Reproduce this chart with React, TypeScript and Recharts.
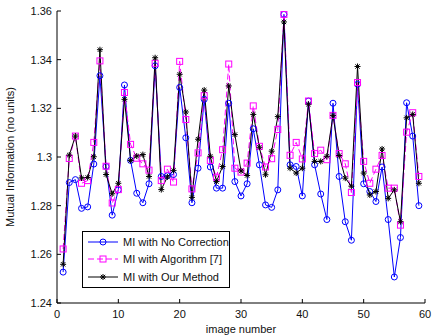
import {
  LineChart,
  Line,
  XAxis,
  YAxis,
  CartesianGrid,
  Legend,
} from 'recharts';

// values
const imageNumber = [
  1, 2, 3, 4, 5, 6, 7, 8, 9, 10, 11, 12, 13, 14, 15, 16, 17, 18, 19, 20,
  21, 22, 23, 24, 25, 26, 27, 28, 29, 30, 31, 32, 33, 34, 35, 36, 37, 38, 39, 40,
  41, 42, 43, 44, 45, 46, 47, 48, 49, 50, 51, 52, 53, 54, 55, 56, 57, 58, 59,
];

const noCorrection = [
  1.2527, 1.2895, 1.2907, 1.2789, 1.2795, 1.2971, 1.3334, 1.2961, 1.2761, 1.2865,
  1.3296, 1.2986, 1.2851, 1.2812, 1.289, 1.3375, 1.292, 1.2923, 1.2928, 1.3286,
  1.3079, 1.2812, 1.2954, 1.3237, 1.2959, 1.2872, 1.2872, 1.3221, 1.2899, 1.284,
  1.289, 1.3116, 1.2968, 1.2803, 1.2793, 1.2865, 1.3586, 1.2968, 1.2961, 1.284,
  1.323, 1.2968, 1.2848, 1.2743, 1.3221, 1.292, 1.2734, 1.2658, 1.3299, 1.289,
  1.2858, 1.2817, 1.2959, 1.2743, 1.2507, 1.2669, 1.3223, 1.3086, 1.28,
];

const algorithm7 = [
  1.2622, 1.2994, 1.3086, 1.2892, 1.2903, 1.306, 1.3395, 1.2962, 1.2811, 1.2866,
  1.3265, 1.3052, 1.2995, 1.2972, 1.2946, 1.3385, 1.2903, 1.295, 1.2897, 1.3393,
  1.3154, 1.2869, 1.3017, 1.3252, 1.2986, 1.2917, 1.303, 1.3382, 1.2954, 1.2938,
  1.2975, 1.321, 1.3044, 1.2959, 1.2993, 1.3113, 1.3586, 1.3007, 1.306, 1.2992,
  1.323, 1.3014, 1.3028, 1.2989, 1.3171, 1.3014, 1.2972, 1.2854, 1.3306, 1.2982,
  1.2892, 1.295, 1.3006, 1.2872, 1.2872, 1.272, 1.3102, 1.3182, 1.292,
];

const ourMethod = [
  1.2559, 1.3008, 1.3086, 1.2914, 1.2916, 1.3001, 1.3441, 1.2928, 1.2849, 1.2892,
  1.3237, 1.2986, 1.3004, 1.301, 1.292, 1.3408, 1.2866, 1.2918, 1.2945, 1.334,
  1.3185, 1.2834, 1.3073, 1.3275, 1.3003, 1.2899, 1.2961, 1.3292, 1.3092, 1.2943,
  1.2924, 1.3175, 1.304, 1.2927, 1.3024, 1.3166, 1.3555, 1.2954, 1.2934, 1.2954,
  1.3217, 1.2982, 1.2982, 1.3003, 1.3171, 1.3006, 1.2913, 1.288, 1.3372, 1.2934,
  1.2844, 1.2858, 1.3033, 1.283, 1.2865, 1.2734, 1.3161, 1.3175, 1.2892,
];

const xTicks = [0, 10, 20, 30, 40, 50, 60];
const yTicks = [1.24, 1.26, 1.28, 1.3, 1.32, 1.34, 1.36];

const seriesNames = ['MI with No Correction', 'MI with Algorithm [7]', 'MI with Our Method'];

const data = imageNumber.map((n, i) => ({
  image: n,
  noCorrection: noCorrection[i],
  algorithm7: algorithm7[i],
  ourMethod: ourMethod[i],
}));

const WIDTH = 435;
const HEIGHT = 335;
const MARGIN = { top: 11, right: 10, bottom: 0, left: 0 };
const YAXIS_W = 57;
const XAXIS_H = 32;
const PLOT_LEFT = MARGIN.left + YAXIS_W;
const PLOT_RIGHT = WIDTH - MARGIN.right;
const PLOT_TOP = MARGIN.top;
const PLOT_BOTTOM = HEIGHT - MARGIN.bottom - XAXIS_H;

const BLUE = '#0000ff';
const MAGENTA = '#ff00ff';
const BLACK = '#000000';
const FONT = '"Liberation Sans", Arial, Helvetica, sans-serif';

const fmt = (v: number) => String(+v.toFixed(2));

// MATLAB style: ticks point into the plot box
const LeftTick = ({ y, payload }: any) => (
  <g>
    <line x1={PLOT_LEFT} x2={PLOT_LEFT + 4} y1={y} y2={y} stroke={BLACK} />
    <text x={PLOT_LEFT - 5} y={y} dy={4} textAnchor="end" fontSize={11} fontFamily={FONT} fill="#111">
      {fmt(payload.value)}
    </text>
  </g>
);

const RightTick = ({ y }: any) => (
  <line x1={PLOT_RIGHT} x2={PLOT_RIGHT - 4} y1={y} y2={y} stroke={BLACK} />
);

const BottomTick = ({ x, payload }: any) => (
  <g>
    <line x1={x} x2={x} y1={PLOT_BOTTOM} y2={PLOT_BOTTOM - 4} stroke={BLACK} />
    <text x={x} y={PLOT_BOTTOM + 15} textAnchor="middle" fontSize={11} fontFamily={FONT} fill="#111">
      {payload.value}
    </text>
  </g>
);

const TopTick = ({ x }: any) => (
  <line x1={x} x2={x} y1={PLOT_TOP} y2={PLOT_TOP + 4} stroke={BLACK} />
);

const Circle = ({ cx, cy, size = 3 }: any) => (
  <circle cx={cx} cy={cy} r={size} fill="none" stroke={BLUE} strokeWidth={1} />
);

const Square = ({ cx, cy, size = 3 }: any) => (
  <rect x={cx - size} y={cy - size} width={size * 2} height={size * 2} fill="none" stroke={MAGENTA} strokeWidth={1} />
);

const Star = ({ cx, cy, size = 3 }: any) => {
  const d = size * 0.72;
  return (
    <g stroke={BLACK} strokeWidth={1}>
      <line x1={cx - size} x2={cx + size} y1={cy} y2={cy} />
      <line x1={cx} x2={cx} y1={cy - size} y2={cy + size} />
      <line x1={cx - d} x2={cx + d} y1={cy - d} y2={cy + d} />
      <line x1={cx - d} x2={cx + d} y1={cy + d} y2={cy - d} />
    </g>
  );
};

const dotFor = (Marker: any) => (props: any) => {
  if (props.cx == null || props.cy == null) return <g key={props.index} />;
  return <Marker key={props.index} cx={props.cx} cy={props.cy} />;
};

const legendRows = [
  { name: seriesNames[0], color: BLUE, dash: undefined, Marker: Circle },
  { name: seriesNames[1], color: MAGENTA, dash: '6 3', Marker: Square },
  { name: seriesNames[2], color: BLACK, dash: undefined, Marker: Star },
];

const MatlabLegend = () => (
  <div
    style={{
      boxSizing: 'border-box',
      width: 148,
      height: 57,
      border: '1px solid #000',
      background: '#fff',
      paddingTop: 1,
      fontFamily: FONT,
      fontSize: 11,
      color: '#111',
    }}
  >
    {legendRows.map((r) => (
      <div key={r.name} style={{ display: 'flex', alignItems: 'center', height: 17.5 }}>
        <svg width={31} height={12} style={{ marginLeft: 5, marginRight: 4 }}>
          <line x1={0} x2={30} y1={6} y2={6} stroke={r.color} strokeDasharray={r.dash} />
          <r.Marker cx={15} cy={6} />
        </svg>
        <span style={{ whiteSpace: 'nowrap' }}>{r.name}</span>
      </div>
    ))}
  </div>
);

export default function App() {
  return (
    <div style={{ position: 'absolute', left: 0, top: 0 }}>
      <LineChart width={WIDTH} height={HEIGHT} data={data} margin={MARGIN}>
        <rect x={0} y={0} width={WIDTH} height={HEIGHT} fill="#fff" />
        <CartesianGrid stroke="#333" strokeDasharray="1 3" />
        <XAxis
          dataKey="image"
          type="number"
          domain={[0, 60]}
          ticks={xTicks}
          height={XAXIS_H}
          axisLine={{ stroke: BLACK }}
          tickLine={false}
          tick={<BottomTick />}
          interval={0}
          label={{ value: 'image number', position: 'insideBottom', offset: 2, fontSize: 11, fontFamily: FONT, fill: '#111' }}
        />
        <XAxis
          xAxisId="top"
          orientation="top"
          type="number"
          domain={[0, 60]}
          ticks={xTicks}
          height={0}
          axisLine={{ stroke: BLACK }}
          tickLine={false}
          tick={<TopTick />}
          interval={0}
        />
        <YAxis
          type="number"
          domain={[1.24, 1.36]}
          ticks={yTicks}
          width={YAXIS_W}
          axisLine={{ stroke: BLACK }}
          tickLine={false}
          tick={<LeftTick />}
          interval={0}
          allowDataOverflow
          label={{
            value: 'Mutual Information (no units)',
            angle: -90,
            position: 'insideLeft',
            offset: 10,
            style: { textAnchor: 'middle' },
            fontSize: 11,
            fontFamily: FONT,
            fill: '#111',
          }}
        />
        <YAxis
          yAxisId="right"
          orientation="right"
          type="number"
          domain={[1.24, 1.36]}
          ticks={yTicks}
          width={0}
          axisLine={{ stroke: BLACK }}
          tickLine={false}
          tick={<RightTick />}
          interval={0}
        />
        <Line
          name={seriesNames[0]}
          dataKey="noCorrection"
          stroke={BLUE}
          strokeWidth={1}
          dot={dotFor(Circle)}
          activeDot={false}
          isAnimationActive={false}
        />
        <Line
          name={seriesNames[1]}
          dataKey="algorithm7"
          stroke={MAGENTA}
          strokeWidth={1}
          strokeDasharray="6 3"
          dot={dotFor(Square)}
          activeDot={false}
          isAnimationActive={false}
        />
        <Line
          name={seriesNames[2]}
          dataKey="ourMethod"
          stroke={BLACK}
          strokeWidth={1}
          dot={dotFor(Star)}
          activeDot={false}
          isAnimationActive={false}
        />
        <Legend
          layout="vertical"
          align="center"
          verticalAlign="middle"
          content={<MatlabLegend />}
          wrapperStyle={{ left: 82, top: 231, width: 148, height: 57 }}
        />
      </LineChart>
    </div>
  );
}
